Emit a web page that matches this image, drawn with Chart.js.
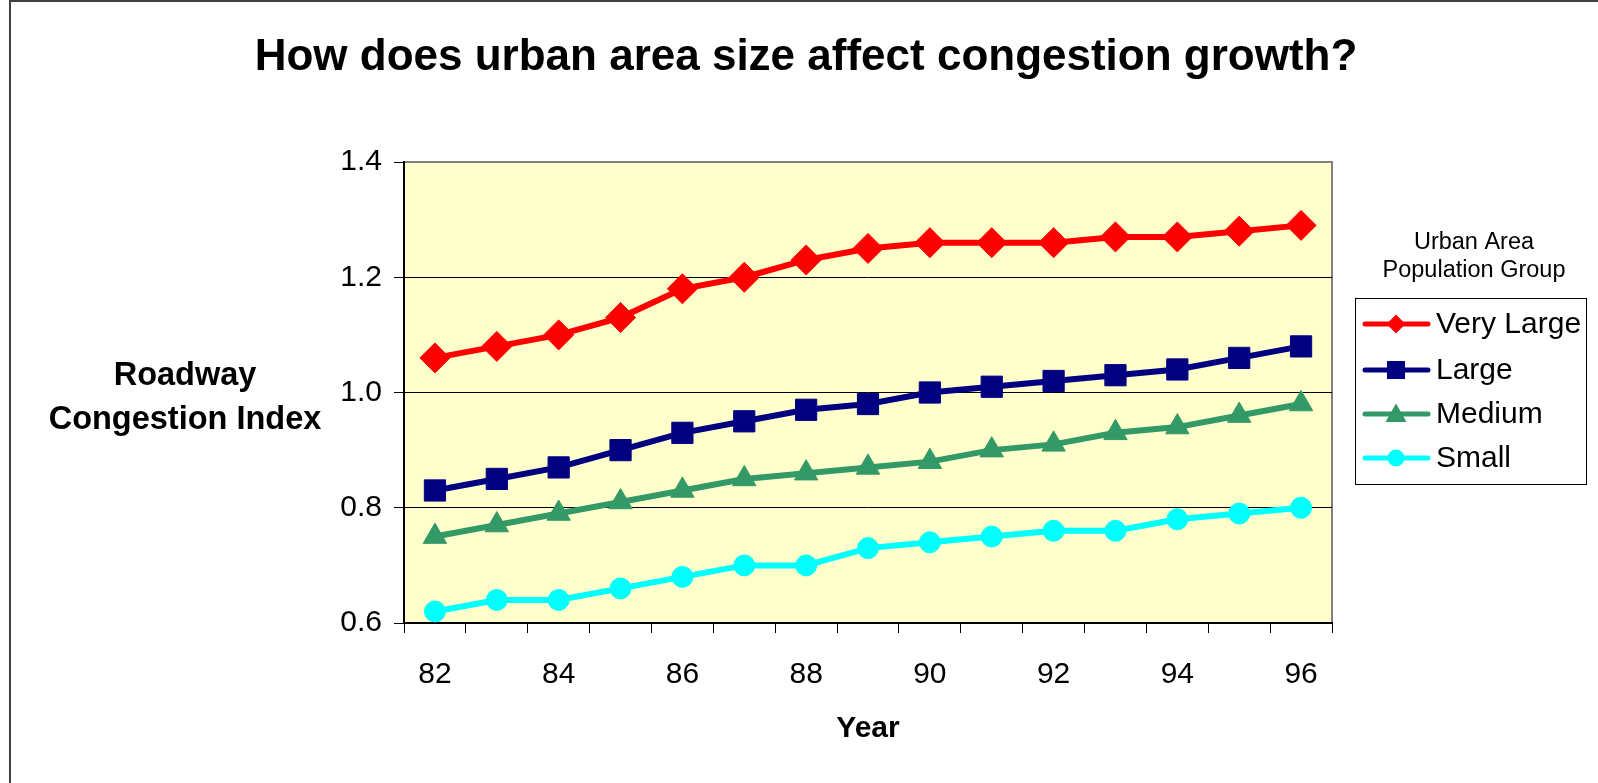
<!DOCTYPE html>
<html>
<head>
<meta charset="utf-8">
<title>Urban area size and congestion growth</title>
<script src="https://cdn.jsdelivr.net/npm/chart.js@4/dist/chart.umd.min.js"></script>
<style>
  html, body { margin: 0; padding: 0; background: #fff; }
  #wrap { position: relative; width: 1598px; height: 783px; }
</style>
</head>
<body>
<div id="wrap"><canvas id="congestionChart" width="1598" height="783"></canvas></div>
<script>
// Values
const years = ['82', '83', '84', '85', '86', '87', '88', '89', '90', '91', '92', '93', '94', '95', '96'];
const veryLarge = [1.06, 1.08, 1.10, 1.13, 1.18, 1.20, 1.23, 1.25, 1.26, 1.26, 1.26, 1.27, 1.27, 1.28, 1.29];
const large = [0.83, 0.85, 0.87, 0.90, 0.93, 0.95, 0.97, 0.98, 1.00, 1.01, 1.02, 1.03, 1.04, 1.06, 1.08];
const medium = [0.75, 0.77, 0.79, 0.81, 0.83, 0.85, 0.86, 0.87, 0.88, 0.90, 0.91, 0.93, 0.94, 0.96, 0.98];
const small = [0.62, 0.64, 0.64, 0.66, 0.68, 0.70, 0.70, 0.73, 0.74, 0.75, 0.76, 0.76, 0.78, 0.79, 0.80];
const seriesNames = ['Very Large', 'Large', 'Medium', 'Small'];
const yTicks = [0.6, 0.8, 1.0, 1.2, 1.4];

const FONT = '"Liberation Sans", Arial, Helvetica, sans-serif';
const colors = ['#FF0000', '#000080', '#339966', '#00FFFF'];
const styles = ['rectRot', 'rect', 'triangle', 'circle'];

// draws a small legend marker
function drawMarker(ctx, style, x, y, r, color) {
  ctx.save();
  ctx.fillStyle = color;
  ctx.beginPath();
  if (style === 'rectRot') {
    ctx.moveTo(x, y - r); ctx.lineTo(x + r, y); ctx.lineTo(x, y + r); ctx.lineTo(x - r, y);
  } else if (style === 'rect') {
    ctx.rect(x - r, y - r, 2 * r, 2 * r);
  } else if (style === 'triangle') {
    ctx.moveTo(x, y - r); ctx.lineTo(x + r, y + r * 0.75); ctx.lineTo(x - r, y + r * 0.75);
  } else {
    ctx.arc(x, y, r, 0, Math.PI * 2);
  }
  ctx.closePath();
  ctx.fill();
  ctx.restore();
}

const decorations = {
  id: 'decorations',
  beforeDraw(chart) {
    const ctx = chart.ctx;
    const a = chart.chartArea;
    ctx.save();
    ctx.fillStyle = '#ffffff';
    ctx.fillRect(0, 0, chart.width, chart.height);
    // outer frame (left and top only are visible)
    ctx.strokeStyle = '#404040';
    ctx.lineWidth = 2;
    ctx.beginPath();
    ctx.moveTo(10, 783); ctx.lineTo(10, 1); ctx.lineTo(1598, 1);
    ctx.stroke();
    // plot area
    ctx.fillStyle = '#FFFFCC';
    ctx.fillRect(a.left, a.top, a.right - a.left, a.bottom - a.top);
    ctx.strokeStyle = '#808080';
    ctx.lineWidth = 2;
    ctx.strokeRect(a.left, a.top, a.right - a.left, a.bottom - a.top);
    ctx.restore();
  },
  afterDraw(chart) {
    const ctx = chart.ctx;
    const a = chart.chartArea;
    ctx.save();
    ctx.fillStyle = '#000';
    ctx.textAlign = 'center';
    ctx.textBaseline = 'middle';

    ctx.font = 'bold 44px ' + FONT;
    ctx.fillText('How does urban area size affect congestion growth?', 806, 58);

    ctx.font = 'bold 32.5px ' + FONT;
    ctx.fillText('Roadway', 185, 376);
    ctx.fillText('Congestion Index', 185, 420);

    ctx.font = 'bold 30px ' + FONT;
    ctx.fillText('Year', (a.left + a.right) / 2, 729);

    // legend
    ctx.font = '23.5px ' + FONT;
    ctx.fillText('Urban Area', 1474, 243);
    ctx.fillText('Population Group', 1474, 271);

    ctx.strokeStyle = '#000';
    ctx.lineWidth = 1;
    ctx.strokeRect(1355.5, 298.5, 231, 186);

    const rows = [324, 370, 414, 458];
    const markerSize = [9.5, 9, 10.5, 8.5];
    ctx.textAlign = 'left';
    ctx.font = '30px ' + FONT;
    seriesNames.forEach((name, i) => {
      const y = rows[i];
      ctx.strokeStyle = colors[i];
      ctx.lineWidth = 5;
      ctx.lineCap = 'round';
      ctx.beginPath();
      ctx.moveTo(1365, y); ctx.lineTo(1428, y);
      ctx.stroke();
      drawMarker(ctx, styles[i], 1396, y, markerSize[i], colors[i]);
      ctx.fillStyle = '#000';
      ctx.fillText(name, 1436, y + 1);
    });
    ctx.restore();
  }
};

const seriesValues = [veryLarge, large, medium, small];
const pointSizes = [15, 15, 13.5, 10.5];

new Chart(document.getElementById('congestionChart'), {
  type: 'line',
  data: {
    labels: years,
    datasets: seriesValues.map((values, i) => ({
      label: seriesNames[i],
      data: values,
      borderColor: colors[i],
      backgroundColor: colors[i],
      borderWidth: 6,
      pointStyle: styles[i],
      pointRadius: pointSizes[i],
      pointBackgroundColor: colors[i],
      pointBorderColor: colors[i],
      pointBorderWidth: 1,
      tension: 0,
      fill: false
    }))
  },
  options: {
    responsive: false,
    animation: false,
    layout: {
      padding: { left: 0, top: 162, right: 266, bottom: 0 }
    },
    scales: {
      x: {
        type: 'category',
        offset: true,
        afterFit: scale => { scale.height = 160; },
        grid: {
          offset: true,
          drawOnChartArea: false,
          drawTicks: true,
          tickLength: 10,
          color: '#000',
          tickColor: '#000'
        },
        border: { color: '#000', width: 2 },
        ticks: {
          autoSkip: false,
          maxRotation: 0,
          padding: 24,
          color: '#000',
          font: { family: FONT, size: 30 },
          callback: (value, index) => (index % 2 === 0 ? years[index] : '')
        }
      },
      y: {
        min: 0.6,
        max: 1.4,
        afterFit: scale => { scale.width = 404; },
        afterBuildTicks: scale => { scale.ticks = yTicks.map(v => ({ value: v })); },
        grid: {
          drawTicks: true,
          tickLength: 10,
          color: ctx => (ctx.tick && ctx.tick.value === 1.4 ? '#808080' : '#000'),
          tickColor: '#000',
          lineWidth: 1
        },
        border: { color: '#000', width: 2 },
        ticks: {
          padding: 12,
          color: '#000',
          font: { family: FONT, size: 30 },
          callback: value => Number(value).toFixed(1)
        }
      }
    },
    plugins: {
      legend: { display: false },
      title: { display: false },
      tooltip: { enabled: false }
    }
  },
  plugins: [decorations]
});
</script>
</body>
</html>
